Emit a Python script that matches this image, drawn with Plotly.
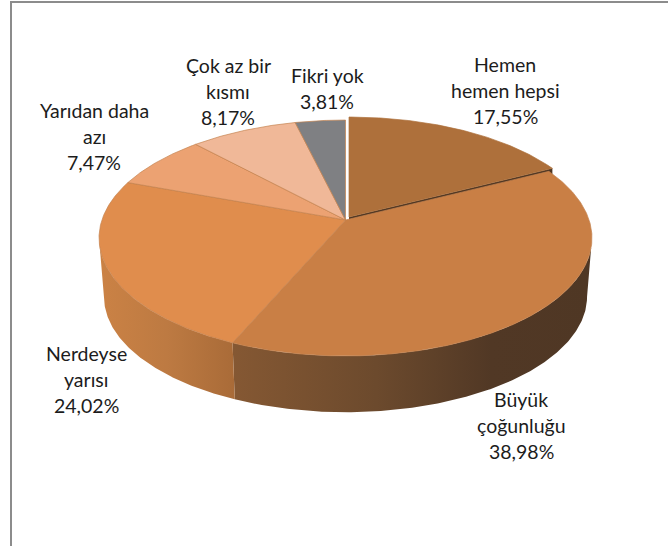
import numpy as np
import plotly.graph_objects as go

categories = ["Hemen hemen hepsi", "Büyük çoğunluğu", "Nerdeyse yarısı",
              "Yarıdan daha azı", "Çok az bir kısmı", "Fikri yok"]
values = [17.55, 38.98, 24.02, 7.47, 8.17, 3.81]
colors = ["#ae703b", "#c97f45", "#e08d4d", "#eca272", "#f0b898", "#7f8083"]
label_lines = [["Hemen", "hemen hepsi"], ["Büyük", "çoğunluğu"], ["Nerdeyse", "yarısı"],
               ["Yarıdan daha", "azı"], ["Çok az bir", "kısmı"], ["Fikri yok"]]

# page-pixel layout of the projected disc
CX, CY = 345.5, 220.0
A, B, K = 243.6, 115.2, 0.1525
DROP, SHRINK = 59.0, 0.98
label_pos = [(505, 116), (521, 451), (86, 405), (94, 162), (228, 117), (327, 101)]
LINE = 25.7
FONT = "Lato, Carlito, Calibri, sans-serif"


def project(deg, drop=0.0, scale=1.0, dx=0.0, dy=0.0):
    t = np.radians(np.asarray(deg, dtype=float))
    u, v = np.sin(t), np.cos(t)
    w = 1 + K * v
    return CX + dx + scale * A * u / w, CY + dy + drop - scale * B * v / w


def poly(x, y, color, line=None, lw=0.0, gradient=None):
    kw = dict(x=list(x), y=list(y), mode="lines", fill="toself", hoverinfo="skip",
              showlegend=False, line=dict(color=line or color, width=lw))
    if gradient:
        kw["fillgradient"] = dict(type="horizontal", colorscale=gradient)
    else:
        kw["fillcolor"] = color
    return go.Scatter(**kw)


total = sum(values)
edges = np.concatenate([[0], np.cumsum(values)]) * 360.0 / total
fig = go.Figure()


def arc(a, b, n=None):
    n = n or max(6, int(abs(b - a) * 2))
    return np.linspace(a, b, n)


def wall(a, b, grad):
    d = arc(a, b)
    xt, yt = project(d)
    xb, yb = project(d[::-1], DROP, SHRINK)
    fig.add_trace(poly(np.r_[xt, xb, xt[0]], np.r_[yt, yb, yt[0]], "#000", gradient=grad))


def top(i, dx=0.0, dy=0.0):
    d = arc(edges[i], edges[i + 1])
    x, y = project(d, dx=dx, dy=dy)
    fig.add_trace(poly(np.r_[CX + dx, x, CX + dx], np.r_[CY + dy, y, CY + dy], colors[i],
                       line="#c4824f" if i else colors[i], lw=0.7))


# lifted first slice, with the dark cut face visible beneath it
HX, HY = 3.5, -3.0
cx, cy = project(edges[1], dx=HX, dy=HY)
fig.add_trace(poly([CX + HX, float(cx), float(cx), CX + HX, CX + HX],
                   [CY + HY, float(cy), float(cy) + DROP, CY + HY + DROP, CY + HY], "#4f3724"))
top(0, HX, HY)

# side walls
left_extreme, right_extreme = 261.2, 98.8
wall(right_extreme, edges[2],
     [[0, "#855833"], [0.4, "#6c4a2d"], [0.72, "#513825"], [1, "#4f3724"]])
wall(edges[2], left_extreme, [[0, "#cb8245"], [0.5, "#bd7a42"], [1, "#a96b38"]])

# upper faces
for i in range(1, len(values)):
    top(i)

# labels
ann = []
for (lx, ly), lines, val in zip(label_pos, label_lines, values):
    rows = lines + [f"{val:.2f}".replace(".", ",") + "%"]
    for k, row in enumerate(rows):
        ann.append(dict(x=lx, y=ly - LINE * (len(rows) - 1 - k), text=row, showarrow=False,
                        xanchor="center", yanchor="middle", xref="x", yref="y",
                        font=dict(family=FONT, size=19.5, color="#1c1c1c")))

fig.update_layout(
    width=668, height=546, margin=dict(l=0, r=0, t=0, b=0),
    autosize=False, paper_bgcolor="white", plot_bgcolor="white", showlegend=False,
    xaxis=dict(range=[0, 668], visible=False, fixedrange=True),
    yaxis=dict(range=[546, 0], visible=False, fixedrange=True),
    annotations=ann,
    shapes=[dict(type="line", x0=11, x1=11, y0=2, y1=546, xref="x", yref="y",
                 line=dict(color="#8c8c8c", width=2)),
            dict(type="line", x0=10, x1=668, y0=2, y1=2, xref="x", yref="y",
                 line=dict(color="#8c8c8c", width=2))],
)
fig.write_html("out.html", config=dict(displayModeBar=False),
               post_script="document.body.style.margin='0';document.body.style.overflow='hidden';")
